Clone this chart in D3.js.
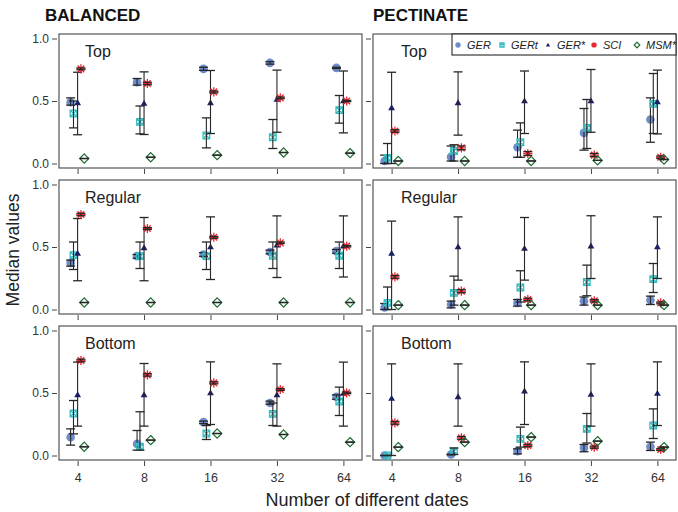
<!DOCTYPE html>
<html><head><meta charset="utf-8">
<script src="https://cdn.jsdelivr.net/npm/d3@7"></script>
<style>body{margin:0;background:#fff}text{font-family:"Liberation Sans",Arial,sans-serif}</style>
</head><body><svg id="c" width="678" height="512"></svg>
<script>
const categories = ["4","8","16","32","64"];
const seriesNames = ["GER","GERt","GER*","SCI","MSM*"];
const yTicks = [0, 0.5, 1];
const colTitles = ["BALANCED","PECTINATE"];
const rowTitles = ["Top","Regular","Bottom"];

// rows: series (GER, GERt, GER*, SCI, MSM*), columns: categories
const balTopMed = [[0.49,0.65,0.757,0.805,0.765],[0.40,0.333,0.224,0.21,0.427],[0.485,0.48,0.485,0.512,0.50],[0.757,0.64,0.573,0.525,0.50],[0.04,0.05,0.067,0.088,0.083]];
const balTopLo  = [[0.467,0.627,0.745,0.795,0.76],[0.285,0.237,0.125,0.12,0.323],[0.23,0.232,0.24,0.25,0.245],[0.75,0.63,0.565,0.518,0.495],[0.04,0.05,0.067,0.088,0.083]];
const balTopHi  = [[0.525,0.68,0.77,0.815,0.77],[0.50,0.46,0.365,0.352,0.544],[0.73,0.733,0.744,0.747,0.74],[0.765,0.65,0.58,0.532,0.505],[0.04,0.05,0.067,0.088,0.083]];

const pecTopMed = [[0.02,0.053,0.13,0.245,0.352],[0.045,0.10,0.17,0.285,0.477],[0.445,0.485,0.50,0.50,0.493],[0.26,0.125,0.08,0.067,0.05],[0.02,0.02,0.02,0.025,0.032]];
const pecTopLo  = [[0.0,0.02,0.05,0.107,0.17],[0.0,0.02,0.05,0.12,0.24],[0.0,0.227,0.24,0.25,0.237],[0.25,0.11,0.065,0.055,0.04],[0.02,0.02,0.02,0.025,0.032]];
const pecTopHi  = [[0.067,0.14,0.267,0.44,0.525],[0.16,0.15,0.325,0.512,0.72],[0.73,0.733,0.74,0.752,0.747],[0.27,0.14,0.095,0.08,0.06],[0.02,0.02,0.02,0.025,0.032]];

const balRegMed = [[0.373,0.427,0.44,0.46,0.467],[0.435,0.427,0.427,0.43,0.43],[0.448,0.493,0.50,0.515,0.507],[0.76,0.648,0.578,0.533,0.507],[0.056,0.056,0.056,0.056,0.056]];
const balRegLo  = [[0.347,0.41,0.425,0.445,0.45],[0.32,0.328,0.32,0.328,0.328],[0.23,0.23,0.24,0.256,0.26],[0.75,0.64,0.57,0.527,0.5],[0.056,0.056,0.056,0.056,0.056]];
const balRegHi  = [[0.395,0.44,0.455,0.475,0.48],[0.54,0.54,0.54,0.54,0.54],[0.728,0.736,0.741,0.749,0.749],[0.77,0.655,0.585,0.54,0.512],[0.056,0.056,0.056,0.056,0.056]];

const pecRegMed = [[0.016,0.04,0.053,0.067,0.075],[0.053,0.133,0.176,0.22,0.243],[0.448,0.50,0.488,0.507,0.50],[0.261,0.147,0.08,0.07,0.053],[0.035,0.035,0.035,0.035,0.035]];
const pecRegLo  = [[0.0,0.013,0.027,0.035,0.04],[0.0,0.035,0.06,0.11,0.136],[0.0,0.235,0.235,0.248,0.248],[0.25,0.135,0.07,0.06,0.045],[0.035,0.035,0.035,0.035,0.035]];
const pecRegHi  = [[0.048,0.067,0.08,0.10,0.107],[0.18,0.267,0.31,0.355,0.368],[0.707,0.741,0.736,0.75,0.741],[0.272,0.158,0.09,0.08,0.06],[0.035,0.035,0.035,0.035,0.035]];

const balBotMed = [[0.147,0.093,0.267,0.42,0.469],[0.336,0.07,0.176,0.333,0.432],[0.485,0.485,0.50,0.485,0.496],[0.76,0.645,0.581,0.528,0.501],[0.07,0.123,0.176,0.168,0.107]];
const balBotLo  = [[0.083,0.043,0.255,0.41,0.45],[0.173,0.043,0.128,0.24,0.32],[0.235,0.235,0.248,0.235,0.235],[0.75,0.635,0.573,0.52,0.495],[0.07,0.123,0.176,0.168,0.107]];
const balBotHi  = [[0.213,0.20,0.275,0.435,0.485],[0.44,0.35,0.24,0.42,0.547],[0.747,0.736,0.749,0.733,0.747],[0.77,0.655,0.59,0.535,0.507],[0.07,0.123,0.176,0.168,0.107]];

const pecBotMed = [[0.0,0.008,0.035,0.061,0.07],[0.0,0.035,0.133,0.213,0.24],[0.456,0.469,0.515,0.488,0.496],[0.261,0.141,0.08,0.067,0.048],[0.067,0.107,0.147,0.115,0.067]];
const pecBotLo  = [[0.0,0.005,0.013,0.03,0.04],[0.0,0.008,0.067,0.10,0.136],[0.0,0.235,0.248,0.235,0.24],[0.25,0.13,0.07,0.058,0.04],[0.067,0.107,0.147,0.115,0.067]];
const pecBotHi  = [[0.0,0.01,0.053,0.088,0.107],[0.0,0.06,0.227,0.336,0.373],[0.733,0.733,0.749,0.733,0.749],[0.272,0.152,0.09,0.075,0.056],[0.067,0.107,0.147,0.115,0.067]];

const panels = [
  {row:0,col:0,med:balTopMed,lo:balTopLo,hi:balTopHi},
  {row:0,col:1,med:pecTopMed,lo:pecTopLo,hi:pecTopHi},
  {row:1,col:0,med:balRegMed,lo:balRegLo,hi:balRegHi},
  {row:1,col:1,med:pecRegMed,lo:pecRegLo,hi:pecRegHi},
  {row:2,col:0,med:balBotMed,lo:balBotLo,hi:balBotHi},
  {row:2,col:1,med:pecBotMed,lo:pecBotLo,hi:pecBotHi}
];

const colX = [59, 373], pw = 303, rowY = [34, 180, 326], ph = 134;
const offsets = [-0.105, -0.062, 0, 0.05, 0.1];
const colors = ["#5f80c6","#35bcc0","#1b1f6b","#e8262d","#1f6b35"];
const ink = "#262626";

const svg = d3.select("#c");

function symbolPath(k, r){
  if(k===0){ return null; }
  if(k===1){ const s=r; return `M${-s},${-s}H${s}V${s}H${-s}Z M${-s},${-s}L${s},${s} M${s},${-s}L${-s},${s}`; }
  if(k===2){ const s=r; return `M0,${-s}L${s*0.95},${s*0.65}H${-s*0.95}Z`; }
  if(k===3){ const s=r, d=r*0.72; return `M${-s},0H${s} M0,${-s}V${s} M${-d},${-d}L${d},${d} M${d},${-d}L${-d},${d}`; }
  if(k===4){ const s=r; return `M0,${-s}L${s},0L0,${s}L${-s},0Z`; }
}
function drawSymbol(g, k, cx, cy, scale){
  const sc = scale||1;
  if(k===0){
    g.append("circle").attr("cx",cx).attr("cy",cy).attr("r",4.3*sc).attr("fill",colors[0]).attr("fill-opacity",0.9);
  } else if(k===1){
    g.append("path").attr("d",symbolPath(1,3.3*sc)).attr("transform",`translate(${cx},${cy})`).attr("fill","none").attr("stroke",colors[1]).attr("stroke-width",1.3);
  } else if(k===2){
    g.append("path").attr("d",symbolPath(2,3.6*sc)).attr("transform",`translate(${cx},${cy})`).attr("fill",colors[2]);
  } else if(k===3){
    g.append("path").attr("d",symbolPath(3,4.6*sc)).attr("transform",`translate(${cx},${cy})`).attr("fill","none").attr("stroke",colors[3]).attr("stroke-width",1.3);
  } else {
    g.append("path").attr("d",symbolPath(4,4.6*sc)).attr("transform",`translate(${cx},${cy})`).attr("fill","none").attr("stroke",colors[4]).attr("stroke-width",1.2);
  }
}

panels.forEach(p=>{
  const x0 = colX[p.col], y0 = rowY[p.row];
  const x = d3.scaleLinear().domain([0.72,5.28]).range([x0, x0+pw]);
  const y = d3.scaleLinear().domain([-0.036,1.036]).range([y0+ph, y0]);
  const g = svg.append("g");
  g.append("rect").attr("x",x0).attr("y",y0).attr("width",pw).attr("height",ph).attr("fill","#fff").attr("stroke","#555").attr("stroke-width",1.2);
  // y axis
  const ya = d3.axisLeft(y).tickValues(yTicks).tickSize(5).tickPadding(3).tickFormat(p.col===0?d3.format(".1f"):()=> "");
  const yg = g.append("g").attr("transform",`translate(${x0-2},0)`).call(ya);
  yg.select(".domain").remove();
  yg.selectAll("line").attr("stroke","#444");
  yg.selectAll("text").attr("font-size",12).attr("fill","#333").style("font-family","Liberation Sans, Arial, sans-serif");
  // x axis
  const xa = d3.axisBottom(x).tickValues([1,2,3,4,5]).tickSize(5).tickPadding(7).tickFormat(p.row===2?(d=>categories[d-1]):()=>"");
  const xg = g.append("g").attr("transform",`translate(0,${y0+ph+1})`).call(xa);
  xg.select(".domain").remove();
  xg.selectAll("line").attr("stroke","#444");
  xg.selectAll("text").attr("font-size",12.5).attr("fill","#333").style("font-family","Liberation Sans, Arial, sans-serif");
  // panel title
  g.append("text").attr("x", x0 + (p.col===0?26:28)).attr("y", y0+23).attr("font-size",16).attr("fill","#222").text(rowTitles[p.row]);
  // data
  seriesNames.forEach((s,k)=>{
    categories.forEach((c,i)=>{
      const cx = x(i+1+offsets[k]);
      drawSymbol(g, k, cx, y(p.med[k][i]));
      const ylo = y(p.lo[k][i]), yhi = y(p.hi[k][i]);
      g.append("line").attr("x1",cx).attr("x2",cx).attr("y1",ylo).attr("y2",yhi).attr("stroke",ink).attr("stroke-width",1.1);
      [ylo,yhi].forEach(yy=>g.append("line").attr("x1",cx-4.5).attr("x2",cx+4.5).attr("y1",yy).attr("y2",yy).attr("stroke",ink).attr("stroke-width",1.3));
    });
  });
});

// column titles
colTitles.forEach((t,i)=>svg.append("text").attr("x", i===0?45:373).attr("y",21).attr("font-size",17).attr("font-weight","bold").attr("fill","#111").text(t));

// legend
const lg = svg.append("g");
lg.append("rect").attr("x",452).attr("y",34).attr("width",224).attr("height",21).attr("fill","#fff").attr("stroke","#111").attr("stroke-width",1);
const legX = [458, 502, 548, 594, 637];
seriesNames.forEach((s,k)=>{
  drawSymbol(lg, k, legX[k], 45, 0.62);
  lg.append("text").attr("x",legX[k]+9).attr("y",49).attr("font-size",11).attr("font-style","italic").attr("fill","#222").text(s);
});

// axis titles
svg.append("text").attr("transform","translate(19,250) rotate(-90)").attr("text-anchor","middle").attr("font-size",17.5).attr("fill","#222").text("Median values");
svg.append("text").attr("x",367).attr("y",506).attr("text-anchor","middle").attr("font-size",18).attr("fill","#222").text("Number of different dates");
</script></body></html>
